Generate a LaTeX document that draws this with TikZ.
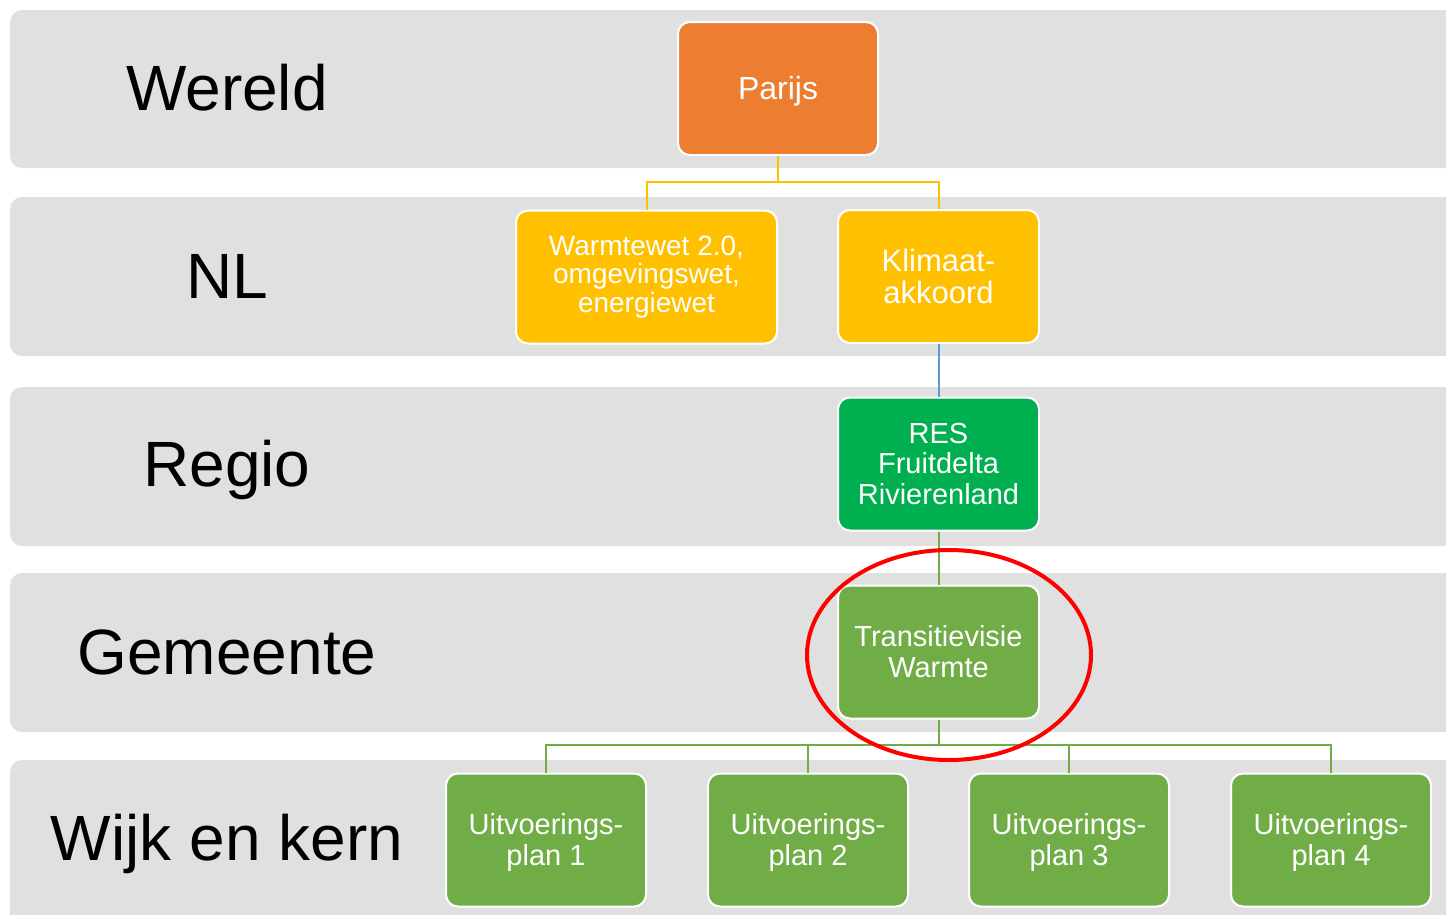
\documentclass[tikz,border=0pt]{standalone}
\usepackage{fontspec}
\usetikzlibrary{shapes.geometric}
\setmainfont{Liberation Sans}
\definecolor{bandgray}{HTML}{E0E0E0}
\definecolor{porange}{HTML}{ED7D31}
\definecolor{pyellow}{HTML}{FFC000}
\definecolor{pgreen}{HTML}{00B050}
\definecolor{plgreen}{HTML}{70AD47}
\definecolor{pblue}{HTML}{5B9BD5}
\definecolor{pred}{HTML}{FF0000}
\newcommand{\lowerby}[2]{\raisebox{-#1}[\height][\depth]{#2}}
\newcommand{\uplan}[1]{\lowerby{4pt}{\begin{tabular}{@{}c@{}}Uitvoerings-\\plan #1\end{tabular}}}
\begin{document}
\begin{tikzpicture}[x=1pt,y=-1pt,
  band/.style={fill=bandgray,draw=none,rounded corners=12pt},
  lvl/.style={font=\fontsize{64}{68}\selectfont,text=black,anchor=center},
  box/.style={draw=white,line width=2pt,rounded corners=12pt,text=white,align=center,
    minimum width=200pt,minimum height=133pt,inner sep=0pt,
    font=\fontsize{29}{31}\selectfont},
  conn/.style={line width=2pt}
]
\useasboundingbox (0,0) rectangle (1446,914);
% bands
\fill[band] (10,10) rectangle (1470,168);
\fill[band] (10,197) rectangle (1470,356);
\fill[band] (10,387) rectangle (1470,546);
\fill[band] (10,573) rectangle (1470,732);
\fill[band] (10,760) rectangle (1470,940);
% level labels
\node[lvl] (lw) at (227,88) {Wereld};
\node[lvl] (ln) at (227,276) {NL};
\node[lvl] (lr) at (227,470) {Regio};
\node[lvl] (lg) at (227,652) {Gemeente};
\node[lvl] (lk) at (227,844) {Wijk en kern};
% boxes
\node[box,fill=porange,font=\fontsize{32}{34}\selectfont] (par) at (778,88.5) {\lowerby{3pt}{Parijs}};
\node[box,fill=pyellow,minimum width=261pt,font=\fontsize{28}{28.5}\selectfont] (war) at (646.5,277) {Warmtewet 2.0,\\omgevingswet,\\energiewet};
\node[box,fill=pyellow,minimum width=201pt,font=\fontsize{31}{32}\selectfont] (kli) at (938.5,276.5) {Klimaat-\\akkoord};
\node[box,fill=pgreen,minimum width=201pt,font=\fontsize{29}{30.5}\selectfont] (res) at (938.5,464) {RES\\Fruitdelta\\Rivierenland};
\node[box,fill=plgreen,minimum width=201pt] (tvw) at (938.5,652) {Transitievisie\\Warmte};
\node[box,fill=plgreen] (u1) at (546,840) {\uplan{1}};
\node[box,fill=plgreen] (u2) at (808,840) {\uplan{2}};
\node[box,fill=plgreen] (u3) at (1069,840) {\uplan{3}};
\node[box,fill=plgreen] (u4) at (1331,840) {\uplan{4}};
% connectors
\coordinate (jy) at (0,182);
\coordinate (jg) at (0,745);
\draw[conn,pyellow] (par.south) -- (par.south |- jy) -| (war.north);
\draw[conn,pyellow] (par.south |- jy) -| (kli.north);
\draw[conn,pblue] (kli.south) -- (res.north);
\draw[conn,plgreen] (res.south) -- (tvw.north);
\draw[conn,plgreen] (tvw.south) -- (tvw.south |- jg);
\draw[conn,plgreen] (u1.north) |- (tvw.south |- jg) -| (u4.north);
\draw[conn,plgreen] (u2.north) -- (u2.north |- jg);
\draw[conn,plgreen] (u3.north) -- (u3.north |- jg);
% highlight
\node[draw=pred,line width=4pt,ellipse,minimum width=284pt,minimum height=210pt,inner sep=0pt] (hl) at (949,655) {};
\end{tikzpicture}
\end{document}
